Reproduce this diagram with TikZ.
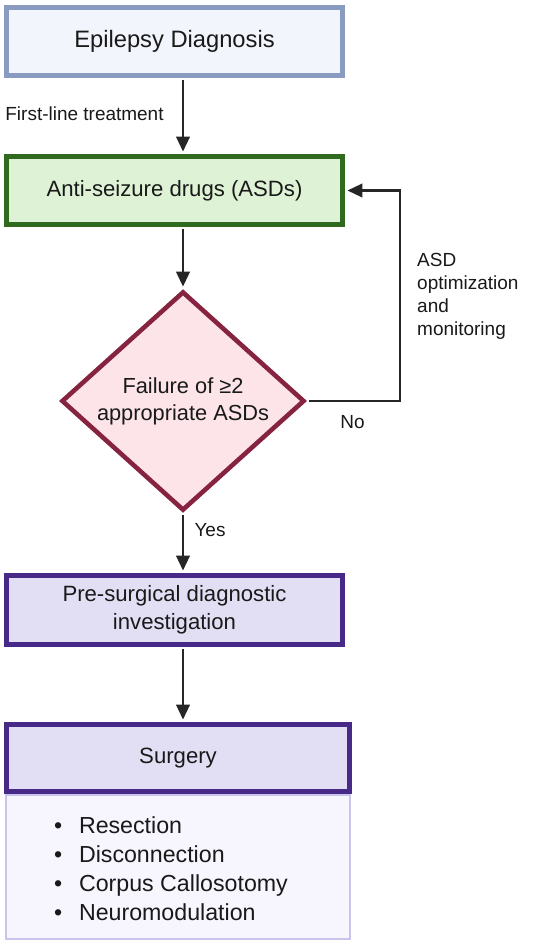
\documentclass[tikz,border=0pt]{standalone}
\usepackage{fontspec}
\setmainfont{Liberation Sans}
\usetikzlibrary{arrows.meta, shapes.geometric}

\definecolor{diagline}{HTML}{8A9BC2}
\definecolor{diagfill}{HTML}{F2F5FB}
\definecolor{asdline}{HTML}{2F6A1F}
\definecolor{asdfill}{HTML}{DEF3D6}
\definecolor{failline}{HTML}{852340}
\definecolor{failfill}{HTML}{FCE4E9}
\definecolor{surgline}{HTML}{472A87}
\definecolor{surgfill}{HTML}{E2DFF4}
\definecolor{listline}{HTML}{C9C4EC}
\definecolor{listfill}{HTML}{F7F5FD}
\definecolor{arrowgrey}{HTML}{262626}

\begin{document}
\begin{tikzpicture}[
    >={Triangle[length=3mm, width=2.7mm]},
    box/.style={rectangle, draw, line width=2.8pt, minimum width=6.72cm, minimum height=1.36cm, inner sep=0pt, align=center, font=\fontsize{12.6}{15.8}\selectfont},
    arr/.style={->, line width=1.4pt, draw=arrowgrey, shorten <=1.4pt, shorten >=1.4pt},
    lab/.style={font=\fontsize{10.8}{13}\selectfont},
    every node/.style={text=black!90}
]
\useasboundingbox (0,0) rectangle (11,-18.88);

\node[box, draw=diagline, fill=diagfill, font=\fontsize{13.5}{16}\selectfont] (diag) at (3.49,-0.83) {Epilepsy Diagnosis};
\node[box, draw=asdline, fill=asdfill] (asd) at (3.49,-3.81) {Anti-seizure drugs (ASDs)};
\node[diamond, draw=failline, fill=failfill, line width=2.6pt, minimum width=4.86cm, minimum height=3.78cm, inner sep=0pt, align=center, font=\fontsize{12.4}{15.3}\selectfont] (fail) at (3.66,-8.02) {Failure of ≥2\\appropriate ASDs};
\node[box, draw=surgline, fill=surgfill, minimum height=1.38cm] (presurg) at (3.49,-12.2) {Pre-surgical diagnostic\\investigation};
\node[rectangle, draw=listline, fill=listfill, line width=1.2pt, minimum width=6.88cm, minimum height=2.88cm] (methods) at (3.56,-17.34) {};
\node[box, draw=surgline, fill=surgfill, minimum width=6.86cm, minimum height=1.34cm] (surgery) at (3.56,-15.16) {Surgery};
\node[anchor=west, align=left, font=\fontsize{13.2}{16.4}\selectfont] (methodlist) at (0.96,-17.37)
    {\makebox[1.07em][l]{•}Resection\\
     \makebox[1.07em][l]{•}Disconnection\\
     \makebox[1.07em][l]{•}Corpus Callosotomy\\
     \makebox[1.07em][l]{•}Neuromodulation};

\node[lab] (firstline) at (1.69,-2.28) {First-line treatment};
\node[lab, anchor=west, align=left] (optim) at (8.22,-5.93) {ASD\\optimization\\and\\monitoring};
\node[lab] (no) at (7.05,-8.44) {No};
\node[lab] (yes) at (4.2,-10.6) {Yes};

\coordinate (back) at (8.0,-3.81);

\draw[arr] (diag.south -| fail) -- (asd.north -| fail);
\draw[arr] (asd.south -| fail) -- (fail.north);
\draw[arr] (fail.east) -| (back) -- (asd.east);
\draw[arr] (fail.south) -- (presurg.north -| fail);
\draw[arr] (presurg.south -| fail) -- (surgery.north -| fail);
\end{tikzpicture}
\end{document}
